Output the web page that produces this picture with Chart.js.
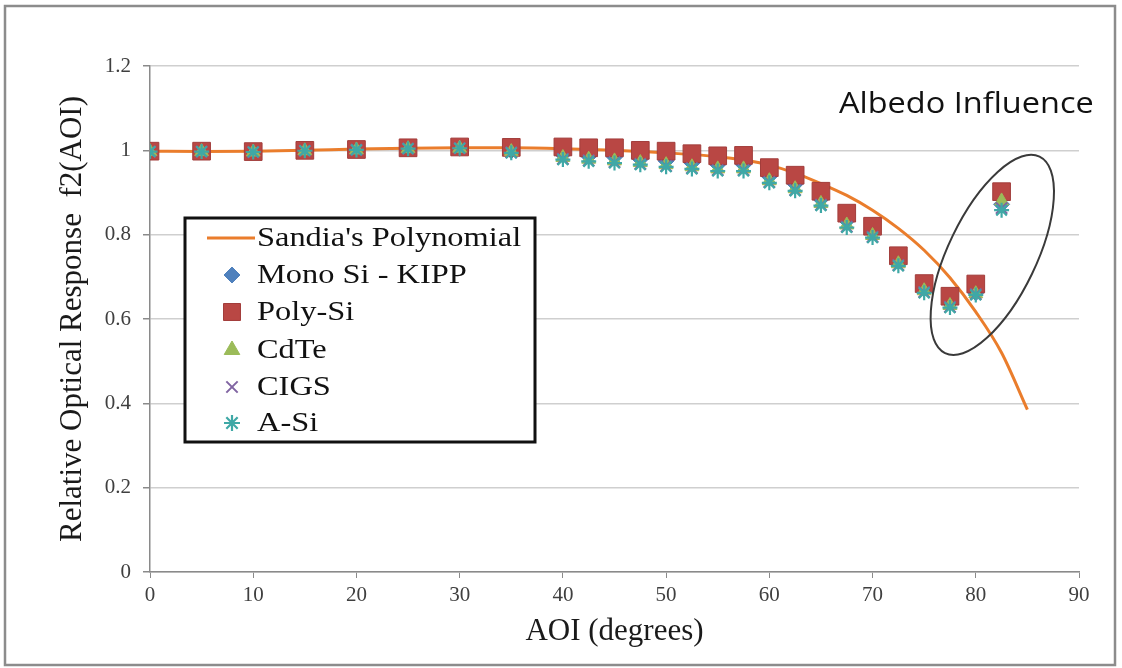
<!DOCTYPE html>
<html>
<head>
<meta charset="utf-8">
<script src="https://cdn.jsdelivr.net/npm/chart.js@4.4.1/dist/chart.umd.min.js"></script>
<style>
html,body{margin:0;padding:0;background:#fff;}
#wrap{width:1122px;height:668px;position:relative;}
</style>
</head>
<body>
<div id="wrap"><canvas id="c" width="1122" height="668"></canvas></div>
<script>
// ---- data ----
const aoi = [0,5,10,15,20,25,30,35,40,42.5,45,47.5,50,52.5,55,57.5,60,62.5,65,67.5,70,72.5,75,77.5,80,82.5];
const polySi = [0.998,0.998,0.997,1.0,1.002,1.006,1.008,1.007,1.008,1.006,1.006,1.0,0.998,0.992,0.987,0.988,0.959,0.941,0.903,0.851,0.820,0.750,0.684,0.654,0.683,0.902];
const monoSi = [0.997,0.997,0.996,0.999,1.001,1.004,1.005,0.999,0.990,0.986,0.984,0.979,0.975,0.970,0.966,0.966,0.938,0.920,0.884,0.833,0.805,0.737,0.672,0.638,0.662,0.872];
const cdTe = [0.997,0.997,0.996,0.999,1.001,1.004,1.005,0.997,0.983,0.979,0.975,0.971,0.966,0.961,0.956,0.956,0.928,0.909,0.874,0.823,0.798,0.731,0.667,0.632,0.660,0.880];
const cigs = [0.997,0.997,0.996,0.999,1.001,1.004,1.005,0.995,0.980,0.976,0.972,0.968,0.963,0.958,0.953,0.953,0.925,0.906,0.871,0.819,0.795,0.728,0.664,0.629,0.659,0.863];
const aSi = [0.997,0.997,0.996,0.999,1.001,1.004,1.005,0.994,0.978,0.974,0.970,0.966,0.961,0.956,0.951,0.951,0.923,0.904,0.869,0.817,0.793,0.726,0.662,0.627,0.657,0.858];
const sandiaAoi = [0,5,10,15,20,25,30,35,40,45,50,55,57.5,60,62.5,65,67.5,70,72.5,75,77.5,80,82.5,85];
const sandiaPoly = [0.998,0.997,0.998,1.0,1.003,1.005,1.006,1.006,1.004,1.0,0.994,0.985,0.977,0.965,0.946,0.921,0.893,0.858,0.815,0.763,0.698,0.617,0.520,0.385];
const seriesNames = ["Sandia's Polynomial","Mono Si - KIPP","Poly-Si","CdTe","CIGS","A-Si"];
const yTickLabels = ['0','0.2','0.4','0.6','0.8','1','1.2'];
const xTickLabels = ['0','10','20','30','40','50','60','70','80','90'];
const xTitle = 'AOI (degrees)';
const yTitle = 'Relative Optical Response  f2(AOI)';
const noteText = 'Albedo Influence';
const noteEllipseCenter = [81.6, 0.752];

const pts = (xs, ys) => xs.map((x, i) => ({x: x, y: ys[i]}));

const ORANGE = '#ea7d2c';
const datasets = [
  {label: seriesNames[0], data: pts(sandiaAoi, sandiaPoly), showLine: true, borderColor: ORANGE, backgroundColor: ORANGE,
   borderWidth: 3, pointRadius: 0, cubicInterpolationMode: 'monotone', order: 5, legendStyle: 'line'},
  {label: seriesNames[1], data: pts(aoi, monoSi), pointStyle: 'rectRot', pointRadius: 8, backgroundColor: '#4f81bd', borderColor: '#4f81bd', borderWidth: 1, order: 4},
  {label: seriesNames[2], data: pts(aoi, polySi), pointStyle: 'rect', pointRadius: 12.5, backgroundColor: '#b94744', borderColor: '#a23d3b', borderWidth: 1, order: 3},
  {label: seriesNames[3], data: pts(aoi, cdTe), pointStyle: 'triangle', pointRadius: 8, backgroundColor: '#9bbb59', borderColor: '#9bbb59', borderWidth: 1, order: 2},
  {label: seriesNames[4], data: pts(aoi, cigs), pointStyle: 'crossRot', pointRadius: 8, backgroundColor: '#8064a2', borderColor: '#8064a2', borderWidth: 2, order: 1},
  {label: seriesNames[5], data: pts(aoi, aSi), pointStyle: 'star', pointRadius: 7.5, backgroundColor: '#3fa8a6', borderColor: '#3fa8a6', borderWidth: 2.2, order: 0}
];

function scaledText(ctx, text, x, y, sx) {
  ctx.save();
  ctx.translate(x, y);
  ctx.scale(sx, 1);
  ctx.fillText(text, 0, 0);
  ctx.restore();
}

const decor = {
  id: 'decor',
  beforeDraw(chart) {
    const ctx = chart.ctx;
    ctx.save();
    ctx.fillStyle = '#ffffff';
    ctx.fillRect(0, 0, chart.width, chart.height);
    ctx.strokeStyle = '#8c8c8c';
    ctx.lineWidth = 2.5;
    ctx.strokeRect(5, 6, 1110, 659);
    ctx.restore();
  },
  afterDatasetsDraw(chart) {
    const ctx = chart.ctx;
    const xs = chart.scales.x, ys = chart.scales.y;
    ctx.save();
    // ellipse around the albedo-affected points
    ctx.beginPath();
    ctx.ellipse(xs.getPixelForValue(noteEllipseCenter[0]), ys.getPixelForValue(noteEllipseCenter[1]), 109, 44, -64.3 * Math.PI / 180, 0, 2 * Math.PI);
    ctx.strokeStyle = '#3a3a3a';
    ctx.lineWidth = 2;
    ctx.stroke();
    // annotation text
    ctx.fillStyle = '#111111';
    ctx.font = '29px "Open Sans"';
    ctx.textBaseline = 'alphabetic';
    ctx.textAlign = 'left';
    scaledText(ctx, noteText, 839, 113, 1.12);

    // legend box
    const L = 185, T = 218, W = 350, H = 224;
    ctx.fillStyle = '#ffffff';
    ctx.fillRect(L, T, W, H);
    ctx.strokeStyle = '#111111';
    ctx.lineWidth = 3;
    ctx.strokeRect(L, T, W, H);
    const rowY = [238, 275, 312, 350, 387, 423];
    const sizes = [0, 8, 12, 9, 8, 8];
    chart.data.datasets.forEach((ds, i) => {
      const y = rowY[i];
      if (ds.legendStyle === 'line') {
        ctx.beginPath();
        ctx.moveTo(207, y);
        ctx.lineTo(255, y);
        ctx.strokeStyle = ds.borderColor;
        ctx.lineWidth = 3;
        ctx.stroke();
      } else {
        ctx.fillStyle = ds.backgroundColor;
        ctx.strokeStyle = ds.borderColor;
        ctx.lineWidth = ds.borderWidth;
        Chart.helpers.drawPoint(ctx, {pointStyle: ds.pointStyle, rotation: 0, radius: sizes[i], borderWidth: ds.borderWidth}, 232, y);
      }
      ctx.fillStyle = '#111111';
      ctx.font = '27px "Liberation Serif"';
      ctx.textBaseline = 'middle';
      ctx.textAlign = 'left';
      scaledText(ctx, ds.label, 257, y + 1, 1.2);
    });
    ctx.restore();
  }
};

new Chart(document.getElementById('c'), {
  type: 'scatter',
  data: {datasets: datasets},
  plugins: [decor],
  options: {
    responsive: false,
    animation: false,
    devicePixelRatio: 1,
    layout: {padding: {left: 50, top: 66, right: 43, bottom: 14}},
    plugins: {legend: {display: false}, tooltip: {enabled: false}},
    scales: {
      x: {
        type: 'linear', min: 0, max: 90,
        afterFit: s => { s.height = 82; },
        ticks: {stepSize: 10, color: '#3f3f3f', font: {family: 'Liberation Serif', size: 21}, padding: 5,
                maxRotation: 0, callback: (v, i) => xTickLabels[i]},
        grid: {drawOnChartArea: false, drawTicks: true, tickLength: 6, tickColor: '#8a8a8a'},
        border: {display: true, color: '#8a8a8a', width: 1.5},
        title: {display: true, text: xTitle, color: '#1a1a1a', font: {family: 'Liberation Serif', size: 31}, padding: {top: 0, bottom: 4}}
      },
      y: {
        type: 'linear', min: 0, max: 1.2,
        afterFit: s => { s.width = 100; },
        ticks: {stepSize: 0.2, color: '#3f3f3f', font: {family: 'Liberation Serif', size: 21}, padding: 12,
                callback: (v, i) => yTickLabels[i]},
        grid: {color: '#cfcfcf', lineWidth: 1.5, drawTicks: true, tickLength: 7, tickColor: '#8a8a8a'},
        border: {display: true, color: '#8a8a8a', width: 1.5},
        title: {display: true, text: yTitle, color: '#1a1a1a', font: {family: 'Liberation Serif', size: 31}, padding: {top: 4, bottom: 0}}
      }
    }
  }
});
</script>
</body>
</html>
